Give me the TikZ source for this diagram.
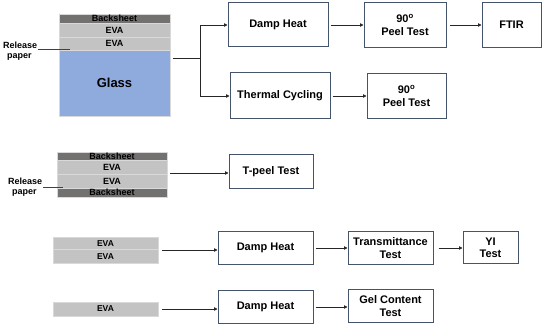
\documentclass[tikz,border=0pt]{standalone}
\usepackage{fontspec}
\setmainfont{Liberation Sans}
\usetikzlibrary{arrows.meta}
\definecolor{bsc}{HTML}{737070}
\definecolor{evac}{HTML}{C3C3C3}
\definecolor{glc}{HTML}{8FAADC}
\definecolor{boxc}{HTML}{44546A}
\definecolor{linec}{HTML}{262626}
\begin{document}
\begin{tikzpicture}[x=1pt,y=-1pt,
  layer/.style={draw=white!85!black,line width=0.6pt,inner sep=0pt,font=\bfseries\fontsize{9}{9}\selectfont},
  procbox/.style={draw=boxc,line width=1pt,fill=white,inner sep=0pt,align=center,font=\bfseries\fontsize{11}{12.5}\selectfont},
  conn/.style={draw=linec,line width=0.8pt,-{Triangle[length=3.5pt,width=3.5pt]}},
  plain/.style={draw=linec,line width=0.8pt},
  rp/.style={align=left,font=\bfseries\fontsize{9}{11}\selectfont,inner sep=0pt},
  redl/.style={draw=red!85!black,line width=0.8pt}]
\useasboundingbox (0,0) rectangle (550,328);
% ---------- stack 1
\path[layer,fill=bsc] (59,14) rectangle (170,23.5) node[midway] (bs1) {Backsheet};
\path[layer,fill=evac] (59,23.5) rectangle (170,37) node[midway] (e1a) {EVA};
\path[layer,fill=evac] (59,37) rectangle (170,50) node[midway] (e1b) {EVA};
\path[layer,fill=glc] (59,50) rectangle (170,116) node[midway] (gl) {\fontsize{13}{13}\selectfont Glass};
\node[rp,anchor=west] (rp1) at (3,51) {Release\\[-1pt]\hspace*{4pt}paper};
\coordinate (rp1e) at (70,49.5);
\draw[redl] (38,49.5) -- (rp1e);
\coordinate (g1) at (173,58);
\coordinate (br) at (200,58);
\node[procbox,minimum width=100pt,minimum height=44pt] (dh1) at (278,25) {Damp Heat};
\node[procbox,minimum width=100pt,minimum height=46pt] (tc) at (280,96) {Thermal Cycling};
\node[procbox,minimum width=82pt,minimum height=45pt] (pt1) at (405,25) {90\textsuperscript{o}\\Peel Test};
\node[procbox,minimum width=59pt,minimum height=45pt] (ftir) at (511.5,25) {FTIR};
\node[procbox,minimum width=79pt,minimum height=45pt] (pt2) at (406.5,96) {90\textsuperscript{o}\\Peel Test};
\draw[plain] (g1) -- (br);
\draw[conn] (br) |- (dh1.west);
\draw[conn] (br) |- (tc.west);
\draw[conn] ([xshift=2pt]dh1.east) -- (pt1.west);
\draw[conn] ([xshift=3pt]pt1.east) -- (ftir.west);
\draw[conn] ([xshift=2pt]tc.east) -- (pt2.west);
% ---------- stack 2
\path[layer,fill=bsc] (57,152) rectangle (167,160.7) node[midway] (bs2a) {Backsheet};
\path[layer,fill=evac] (57,160.7) rectangle (167,174) node[midway] (e2a) {EVA};
\path[layer,fill=evac] (57,174) rectangle (167,188) node[midway] (e2b) {EVA};
\path[layer,fill=bsc] (57,188) rectangle (167,197.5) node[midway] (bs2b) {Backsheet};
\node[rp,anchor=west] (rp2) at (8,187.5) {Release\\[-1pt]\hspace*{4pt}paper};
\coordinate (rp2e) at (63,187);
\draw[redl] (43,187) -- (rp2e);
\coordinate (s2) at (170,173);
\node[procbox,minimum width=84pt,minimum height=34pt] (tp) at (271,172) {T-peel Test};
\draw[conn] (s2) -- (s2 -| tp.west);
% ---------- stack 3
\path[layer,fill=evac] (53,237) rectangle (158,249.5) node[midway] (e3a) {\fontsize{8.5}{9}\selectfont EVA};
\path[layer,fill=evac] (53,249.5) rectangle (158,263) node[midway] (e3b) {\fontsize{8.5}{9}\selectfont EVA};
\coordinate (s3) at (162,250);
\node[procbox,minimum width=95pt,minimum height=33pt] (dh3) at (265.5,248) {Damp Heat};
\node[procbox,minimum width=85pt,minimum height=33pt] (tr) at (390.5,248) {Transmittance\\Test};
\node[procbox,minimum width=55pt,minimum height=32pt] (yi) at (490.5,248) {YI\\Test};
\draw[conn] (s3) -- (s3 -| dh3.west);
\draw[conn] ([xshift=2pt]dh3.east) -- (tr.west);
\draw[conn] ([xshift=5pt]tr.east) -- (yi.west);
% ---------- stack 4
\path[layer,fill=evac] (53,302) rectangle (158,316) node[midway] (e4) {\fontsize{8.5}{9}\selectfont EVA};
\coordinate (s4) at (162,309);
\node[procbox,minimum width=95pt,minimum height=33pt] (dh4) at (265.5,307) {Damp Heat};
\node[procbox,minimum width=85pt,minimum height=33pt] (gc) at (390.5,306) {Gel Content\\Test};
\draw[conn] (s4) -- (s4 -| dh4.west);
\draw[conn] ([xshift=2pt]dh4.east) -- (dh4.east -| gc.west);
\end{tikzpicture}
\end{document}
